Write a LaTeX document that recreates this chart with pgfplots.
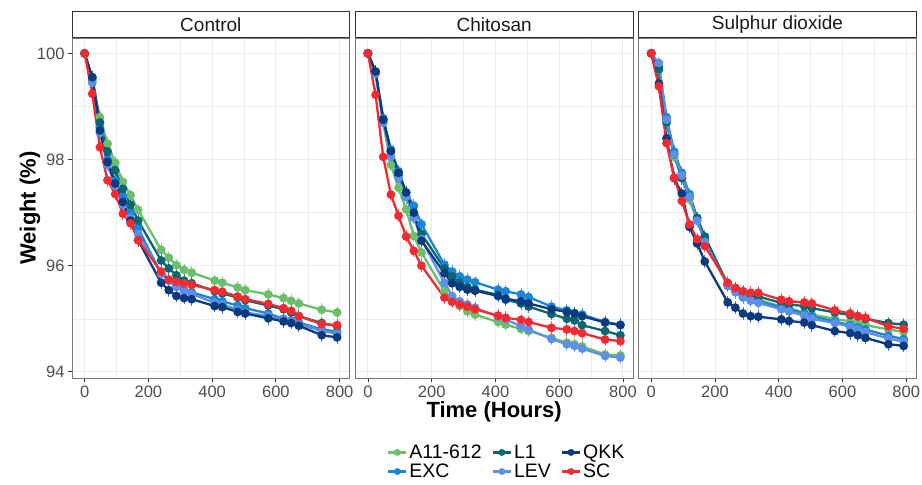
\documentclass[border=0pt]{standalone}
\usepackage{fontspec}
\setmainfont{Liberation Sans}
\usepackage{pgfplots}
\usepackage{pgfplotstable}
\pgfplotsset{compat=1.18}

\definecolor{cA}{RGB}{108,191,106}
\definecolor{cE}{RGB}{26,134,218}
\definecolor{cL}{RGB}{11,102,112}
\definecolor{cV}{RGB}{94,143,230}
\definecolor{cQ}{RGB}{11,59,126}
\definecolor{cS}{RGB}{245,42,48}
\definecolor{gridc}{RGB}{235,235,235}
\definecolor{borderc}{RGB}{120,120,120}
\definecolor{tickc}{RGB}{51,51,51}
\definecolor{labc}{RGB}{77,77,77}

% weight (%) over time, one table per treatment
\pgfplotstableread{
t A E L V Q S
0 100 100 100 100 100 100
24 99.45 99.50 99.55 99.45 99.55 99.24
48 98.80 98.60 98.70 98.50 98.55 98.23
72 98.30 98.00 98.15 97.90 97.95 97.61
96 97.94 97.60 97.80 97.50 97.55 97.35
120 97.58 97.30 97.45 97.15 97.20 96.98
144 97.33 97.00 97.15 96.90 96.85 96.80
168 97.05 96.70 96.85 96.60 96.48 96.48
240 96.30 95.85 96.10 95.85 95.68 95.89
264 96.15 95.72 95.95 95.72 95.54 95.74
288 96.01 95.62 95.82 95.60 95.43 95.70
312 95.92 95.55 95.72 95.52 95.39 95.67
336 95.87 95.50 95.67 95.47 95.37 95.64
408 95.72 95.37 95.52 95.30 95.24 95.54
432 95.68 95.33 95.48 95.27 95.22 95.51
480 95.59 95.25 95.40 95.17 95.13 95.42
504 95.54 95.20 95.35 95.12 95.10 95.37
576 95.46 95.10 95.25 95.05 95.01 95.28
624 95.39 95.00 95.18 94.98 94.95 95.20
648 95.34 94.97 95.12 94.95 94.92 95.15
672 95.29 94.93 95.05 94.90 94.87 95.05
744 95.17 94.80 94.92 94.77 94.69 94.90
792 95.12 94.76 94.86 94.72 94.65 94.88
}\ctrl

\pgfplotstableread{
t A E L V Q S
0 100 100 100 100 100 100
24 99.62 99.65 99.65 99.62 99.66 99.22
48 98.69 98.78 98.75 98.70 98.75 98.05
72 97.90 98.19 98.15 98.05 98.16 97.34
96 97.47 97.78 97.70 97.65 97.75 96.94
120 97.06 97.38 97.30 97.30 97.38 96.55
144 96.56 97.13 96.95 96.90 97.00 96.28
168 96.25 96.78 96.60 96.50 96.47 96.00
240 95.52 96.02 95.95 95.68 95.86 95.40
264 95.36 95.89 95.80 95.43 95.67 95.32
288 95.24 95.80 95.68 95.33 95.60 95.27
312 95.14 95.74 95.60 95.27 95.55 95.23
336 95.08 95.69 95.55 95.21 95.53 95.18
408 94.94 95.55 95.45 95.04 95.43 95.06
432 94.89 95.52 95.36 94.99 95.38 95.02
480 94.81 95.46 95.29 94.86 95.33 94.98
504 94.77 95.41 95.23 94.80 95.29 94.94
576 94.64 95.23 95.09 94.62 95.18 94.83
624 94.55 95.16 95.00 94.52 95.13 94.80
648 94.52 95.11 94.97 94.49 95.10 94.77
672 94.48 95.08 94.88 94.44 95.05 94.73
744 94.33 94.94 94.77 94.30 94.93 94.61
792 94.31 94.89 94.69 94.27 94.88 94.58
}\chit

\pgfplotstableread{
t A E L V Q S
0 100 100 100 100 100 100
24 99.70 99.75 99.70 99.82 99.43 99.38
48 98.70 98.80 98.70 98.75 98.40 98.31
72 98.05 98.15 98.10 98.10 97.65 97.66
96 97.65 97.75 97.65 97.70 97.36 97.22
120 97.25 97.35 97.30 97.30 96.73 96.78
144 96.85 96.90 96.90 96.85 96.42 96.50
168 96.50 96.50 96.55 96.45 96.08 96.37
240 95.65 95.62 95.65 95.62 95.31 95.68
264 95.55 95.52 95.58 95.50 95.21 95.58
288 95.45 95.42 95.50 95.40 95.10 95.52
312 95.40 95.37 95.45 95.34 95.05 95.49
336 95.36 95.33 95.42 95.30 95.04 95.49
408 95.23 95.22 95.30 95.18 94.99 95.36
432 95.20 95.18 95.27 95.14 94.96 95.33
480 95.12 95.10 95.24 95.06 94.93 95.31
504 95.08 95.05 95.20 95.00 94.88 95.29
576 95.00 94.95 95.12 94.92 94.77 95.16
624 94.95 94.88 95.07 94.85 94.73 95.10
648 94.92 94.84 95.05 94.80 94.69 95.05
672 94.88 94.80 95.00 94.75 94.64 95.02
744 94.80 94.68 94.92 94.63 94.52 94.86
792 94.75 94.62 94.89 94.57 94.49 94.81
}\sulf

\newcommand\ebar[3]{\addplot[forget plot, only marks, mark=none, restrict x to domain=1:900,
  error bars/.cd, y dir=both, y fixed=0.12, error mark=none,
  error bar style={color=#3, line width=0.8pt, opacity=0.7}] table[x=t,y=#2]{#1};}
\newcommand\ser[3]{\addplot[forget plot, #3, line width=2.3pt, mark=*, mark size=3.2pt] table[x=t,y=#2]{#1};}
\newcommand\drawpanel[1]{%
  \ebar{#1}{A}{cA}\ebar{#1}{E}{cE}\ebar{#1}{L}{cL}\ebar{#1}{V}{cV}\ebar{#1}{Q}{cQ}\ebar{#1}{S}{cS}%
  \ser{#1}{A}{cA}\ser{#1}{E}{cE}\ser{#1}{L}{cL}\ser{#1}{V}{cV}\ser{#1}{Q}{cQ}\ser{#1}{S}{cS}}

\pgfplotsset{panel/.style={
  scale only axis, width=277.7pt, height=340pt,
  xmin=-39.6, xmax=831.6, ymin=93.885, ymax=100.29,
  xtick={0,200,400,600,800}, ytick={94,96,98,100},
  minor xtick={100,300,500,700}, minor ytick={95,97,99},
  grid=both,
  major grid style={gridc, line width=0.9pt},
  minor grid style={gridc, line width=0.5pt},
  axis line style={borderc, line width=0.8pt},
  tick align=outside, xtick pos=bottom, ytick pos=left,
  major tick length=4pt, minor tick length=0pt,
  tick style={tickc, line width=0.8pt},
  ticklabel style={font=\fontsize{16.5}{18}\selectfont, text=labc},
  /pgf/number format/assume math mode=true,
  every axis title shift=0pt,
  title style={at={(0.5,1)}, anchor=south, yshift=0pt, draw=tickc, fill=white, line width=0.8pt,
    minimum width=277.7pt, minimum height=26pt, inner sep=0pt,
    font=\fontsize{19}{20}\selectfont, text={rgb,255:red,26;green,26;blue,26}},
}}

\begin{document}
\begin{tikzpicture}
\path[use as bounding box] (0pt,0pt) rectangle (922pt,485pt);

\begin{axis}[panel, at={(72pt,107pt)}, title={Control},
  ylabel={\bfseries Weight (\%)},
  ylabel style={at={(axis description cs:-0.151,0.5)}, anchor=center, font=\fontsize{22}{24}\selectfont}]
\drawpanel{\ctrl}
\end{axis}

\begin{axis}[panel, at={(355.3pt,107pt)}, title={Chitosan},
  yticklabels={}, ytick style={draw=none},
  xlabel={\bfseries Time (Hours)},
  xlabel style={at={(axis description cs:0.5,-0.1)}, anchor=center, font=\fontsize{22}{24}\selectfont},
  legend columns=3, legend cell align=left,
  legend style={at={(0.5455,-0.247)}, anchor=center, draw=none, fill=none, inner sep=0pt,
    font=\fontsize{19.5}{21}\selectfont, row sep=0pt,
    /tikz/every even column/.append style={column sep=8pt}},
  legend image code/.code={\draw[#1, line width=2.3pt] (0pt,0pt) -- (18pt,0pt);
    \draw[#1, mark=*, mark size=3.2pt] plot coordinates {(9pt,0pt)};}]
\drawpanel{\chit}
\addlegendimage{cA}\addlegendentry{A11-612}
\addlegendimage{cL}\addlegendentry{L1}
\addlegendimage{cQ}\addlegendentry{QKK}
\addlegendimage{cE}\addlegendentry{EXC}
\addlegendimage{cV}\addlegendentry{LEV}
\addlegendimage{cS}\addlegendentry{SC}
\end{axis}

\begin{axis}[panel, at={(638.6pt,107pt)}, title={Sulphur dioxide},
  yticklabels={}, ytick style={draw=none}]
\drawpanel{\sulf}
\end{axis}
\end{tikzpicture}
\end{document}
